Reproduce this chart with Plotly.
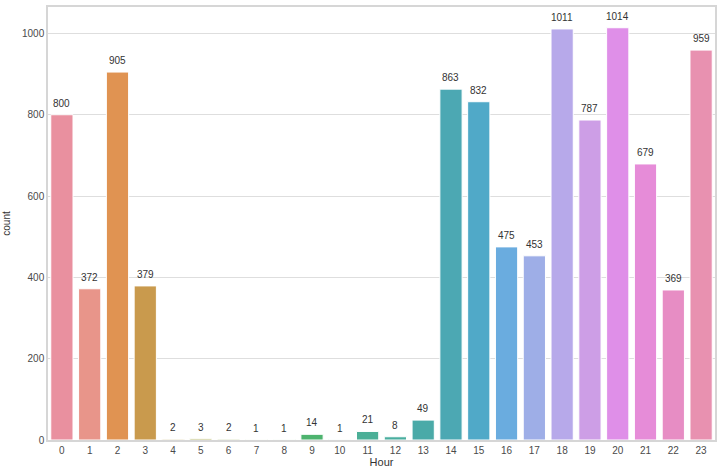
import plotly.graph_objects as go

hours = [str(h) for h in range(24)]
counts = [800, 372, 905, 379, 2, 3, 2, 1, 1, 14, 1, 21, 8, 49,
          863, 832, 475, 453, 1011, 787, 1014, 679, 369, 959]
bar_colors = ['#e9909f', '#e8958a', '#e09352', '#c99a4d', '#b8a04a', '#a5a649',
              '#8fab49', '#72b04b', '#55b35a', '#4db36e', '#4cb187', '#4baf97',
              '#4aae9f', '#4aaaa8', '#4ca8b3', '#50a9c8', '#6aacdf', '#9eaee7',
              '#b7a9ea', '#cd9ee6', '#df8fe8', '#e68cd8', '#e78dc4', '#e891b0']
y_ticks = [0, 200, 400, 600, 800, 1000]

fig = go.Figure(go.Bar(
    x=hours,
    y=counts,
    marker=dict(color=bar_colors, line=dict(color='white', width=1)),
    width=0.8,
))

# count labels above each bar, like ax.annotate in the original notebook
for h, c in zip(hours, counts):
    fig.add_annotation(x=h, y=c, text=str(c), showarrow=False,
                       yanchor='bottom', yshift=4,
                       font=dict(size=10, color='#333333'))

fig.update_layout(
    width=726, height=470,
    margin=dict(l=45, r=11, t=5, b=30),
    paper_bgcolor='white',
    plot_bgcolor='white',
    font=dict(family='Liberation Sans, Arial, sans-serif', size=10, color='#4a4a4a'),
    showlegend=False,
    bargap=0.2,
)

fig.update_xaxes(
    title=dict(text='Hour', font=dict(size=11, color='#333333'), standoff=2),
    showgrid=False,
    showline=True, linecolor='#d6d6d6', linewidth=1.5, mirror=True,
    ticks='', tickfont=dict(size=10),
)

fig.update_yaxes(
    title=dict(text='count', font=dict(size=10, color='#333333'), standoff=10),
    range=[0, 1065],
    tickvals=y_ticks,
    showgrid=True, gridcolor='#dedede', gridwidth=1,
    showline=True, linecolor='#d6d6d6', linewidth=1.5, mirror=True,
    zeroline=False, ticks='', tickfont=dict(size=10),
)

fig.write_html("out.html", config={'displayModeBar': False},
               post_script="document.body.style.margin='0';")
